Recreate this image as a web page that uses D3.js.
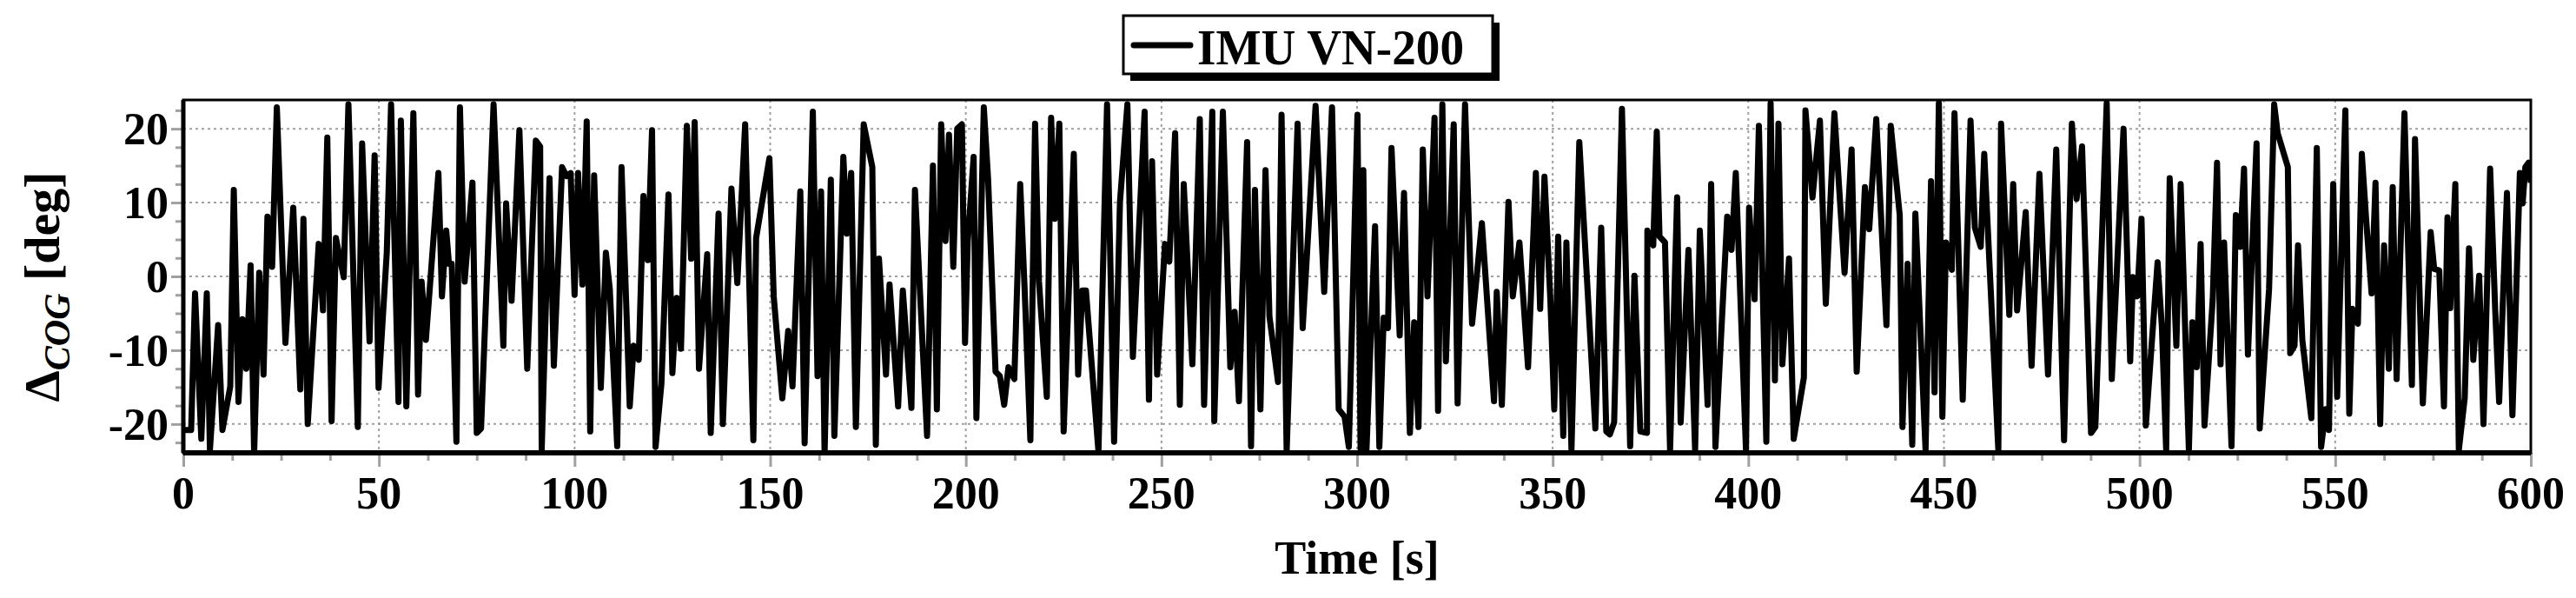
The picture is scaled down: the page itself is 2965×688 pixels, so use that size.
<!DOCTYPE html>
<html>
<head>
<meta charset="utf-8">
<script src="https://cdn.jsdelivr.net/npm/d3@7"></script>
<style>
  body { margin: 0; background: #fff; }
  text { font-family: "Liberation Serif", "Times New Roman", serif; font-weight: bold; }
</style>
</head>
<body>
<div id="chart"></div>
<script>
// turning points: time [s] and Delta COG [deg]
const temps = [0,2,3,4.6,6,6.8,8.9,10,12,12.9,14.1,15.1,16.1,17.2,18.1,19.4,20.5,21.5,22.7,23.9,26.1,28.1,29.9,30.7,31.8,34.6,35.7,36.8,37.9,39,41,42.2,44.6,45.7,47.6,48.9,49.9,52,53.1,55,55.6,57,58.8,60,60.9,62,65.2,66.1,67.2,67.9,68.6,69.8,70.7,71.9,73.9,75,76.1,79.3,81.8,82.5,83.9,85.9,87.9,90.1,91.2,91.6,93.6,94.7,96.8,97.9,99,
  100,100.9,102,103.1,104,105,106.7,108,109,110.9,112,114.1,115.1,116.4,117.6,118.7,119.8,120.7,122.2,124,125,126.1,127.2,128.7,129.8,130.7,131.8,133.9,134.8,136.8,137.9,140.1,141.6,143.6,145.7,146.4,149.8,150.9,153.1,154.6,155.7,157.7,158.8,160.9,162.1,163,163.9,165.5,166.4,168.7,169.6,170.7,171.9,173.9,176.1,177,177.8,179.6,180.5,182.7,183.9,186.1,187,190.1,191.6,192.6,193.7,194.8,195.7,196.8,197.8,199,
  199.8,200.5,202,202.7,204.6,205.7,207.6,208.7,209.8,210.9,212.4,213.9,215,216.5,217.7,218.7,220.7,221.8,222.7,223.9,225,227.6,228.7,229.8,230.7,233.9,236.1,237.9,239.4,241.3,242.7,245.7,246.8,247.6,248.9,250.9,252,253.5,254.7,255.7,257.9,259.8,260.9,263,263.5,265.7,267.6,268.7,269.8,271.9,272.9,273.9,275.3,276.6,277.6,279.8,280.7,282,284.8,286.1,289.4,291.6,293.6,295.3,296.8,297.9,
  300.1,300.9,301.6,302.4,304.6,305.7,306.8,307.9,308.8,310.9,312,313.5,314.6,315.7,316.8,318,319.8,320.7,321.8,322.7,324.7,325.7,327.6,329.4,331.9,335,335.7,337,338.7,339.8,341.5,343.7,345.7,346.8,347.9,349.4,350.4,351.4,352.7,353.5,354.8,356.8,360.9,362.4,363.7,364.6,365.7,367.7,369.8,370.9,372.4,374.1,374.2,375.7,376.6,377.3,378.7,380,381.8,382.7,384.7,386.4,387.6,389.6,390.5,391.6,394.6,395.7,396.8,399.4,
  400.2,401.6,402.7,404.6,405.7,406.8,407.7,408.7,410.4,411.6,414.2,414.6,416.4,418.3,419.8,422,424.6,426.4,427.7,429.8,430.9,432.7,435.3,436.4,438.7,439.4,440.7,441.9,442.7,445.3,446.7,447.6,448.7,449.6,450.5,452,452.7,454.8,456.8,457.9,459.4,460.3,463.9,464.6,466.7,467.7,468.7,470.9,472.4,474.4,476.6,478.7,480.7,482.7,483.9,485.3,487.6,488.7,491.6,492.9,495.9,497.6,498.3,499.4,
  500.5,501.6,504.6,505.7,506.8,507.7,509.4,510.5,511.6,512.6,513.5,514.6,515.6,516.6,518.7,519.8,520.7,521.6,523.5,524.6,525.7,526.7,527.7,529.9,530.7,533.1,534.4,535.3,537.9,538.5,539.6,540.5,541.6,543.9,545.3,546.4,547.6,548.4,549.5,550.5,552.6,553.6,554.4,555.8,556.8,557.9,559.3,560.3,561.5,562.5,563.7,564.7,565.7,567.7,569.6,570.4,572.4,574.4,575.3,576.6,577.8,578.7,579.4,580.7,581.6,583.1,584.2,585.3,586.8,587.9,589.6,590.9,591.9,593.9,595.3,597.2,597.9,598.6,599.4,600];

const deltaCOG = [-20.8,-20.8,-2.3,-22,-2.3,-23.5,-6.6,-20.8,-14.9,11.7,-17,-5.8,-12.5,1.5,-24,0.5,-13.3,8.1,1.3,22.9,-9,9.3,-15.3,7.8,-20,4.4,-4.6,18.8,-19.6,5.2,-0.1,23.3,-20.4,18,-8.8,16.4,-15.1,3.2,23.3,-17,21.1,-17.6,22.1,-16,-0.7,-8.6,14,-2.7,6.2,1.7,1.7,-22.4,22.9,-0.7,12.7,-21.2,-20.6,23.3,-9.4,9.9,-3.3,19.8,-12.5,18.4,17.6,-23.5,13.3,-12.1,14.8,13.6,14,
  -2.5,14,-1.1,21,-21,13.7,-15.1,3.2,-1.7,-23,14.8,-17.6,-9.4,-11.3,10.9,2.2,19.8,-23.1,-14.5,11.1,-13.1,-2.9,-9.8,20.4,2.4,20.9,-12.5,3,-21.2,8.5,-20,11.9,-0.9,20.6,-22.2,5.2,16,-2.7,-16.5,-7.4,-14.9,11.5,-22.6,22.3,-13.5,11.5,-24,13.1,-21.6,16.2,5.8,14,-20.4,20.6,14.8,-22.8,2.4,-13.3,-1.1,-17.6,-1.9,-17.8,11.7,-21.6,15,-18,20.6,4.8,19.2,1.3,20,20.6,
  -9,4.8,16.2,-19.2,22.9,13.1,-12.9,-13.5,-17.4,-12.3,-13.9,12.5,-1.3,-22.2,20.7,-0.7,-16.3,21.5,7.8,20.7,-21,16.6,-13.3,-1.9,-1.9,-23.7,23.3,-22.4,10.1,23.3,-10.9,22.3,-16.7,15.6,-13.3,4.4,2,19.4,-17.4,12.5,-11.9,21.3,-17.4,22.3,-19.6,22.3,-12.3,-4.8,-16.9,18.2,-23,11.7,-18,14.4,-5.4,-14.3,21.9,-23.7,20.7,-7,23.1,-2.1,22.9,-18,-19,-23.1,
  21.9,-23.3,14.4,-23.5,6.8,-23.1,-5.6,-7,17.4,-8,11.3,-21.2,-6.2,-20.4,17.2,-2.7,21.5,-18.2,23.3,-11.5,20.6,-17.2,23.3,-6.4,7.2,-16.9,-2.1,-17.4,10.1,-2.7,4.6,-12.3,14,-4.4,13.5,-3.1,-18,5.4,-21.6,4.6,-23.5,18.2,-20.6,6.6,-21,-21.4,-19.8,22.7,-23,0.1,-21,-21.2,6.2,4.2,19.6,5.4,4.6,-23.5,10.7,-19.8,3.6,-23.5,6.2,-17.4,12.5,-23.1,8.1,3.6,14,-23.5,
  9.3,-3.1,20.4,-22.4,23.5,-14.1,20.7,-11.9,2.4,-22,-13.7,22.5,10.7,21.1,-3.7,22.1,0.5,17.2,-12.9,12.1,6.4,21.3,-6.6,20.4,8.3,-20.4,1.7,-22.8,8.5,-23.5,12.9,-15.7,23.5,-19,4.6,0.9,22.1,-16.7,21.1,6.6,4,16.6,-23.5,20.7,-5.2,12.5,-4.6,8.7,-12.1,13.9,-13.3,17.2,-22.2,20.7,10.5,17.6,-21.2,-20.4,23.5,-13.9,20,-11.5,-0.1,-2.7,
  7.8,-20.2,1.9,-6.8,-23.5,13.3,-9.4,12.5,-6.2,-23.5,-6.2,-12.3,4.4,-20.2,-3.1,15.4,-11.9,4.6,-23,8.3,4,14.6,-10.6,18,-20.6,-1.7,23.3,19.4,14.8,-10.4,-9.4,4.2,-8.6,-19.2,17.4,-23.1,-18,-20.8,12.5,-16.3,22.5,-18.6,-4.4,-6.4,16.6,7.8,-2.3,12.7,-20,4.2,-12.5,12.1,-13.9,22.1,-14.7,18.6,-17.2,6,1,0.8,-17.6,8,-4.3,12.5,-23.5,-16.5,3.8,-11.3,0.1,-20,14.6,-4.6,-17,11.3,-18.8,14,9.9,14.8,15.4,12.7];

const legendLabel = "IMU VN-200";
const ticksX = [0,50,100,150,200,250,300,350,400,450,500,550,600];
const ticksY = [-20,-10,0,10,20];

const W = 2965, H = 688;
const margin = { top: 115, right: 52, bottom: 167, left: 211 },
    width = W - margin.left - margin.right,
    height = H - margin.top - margin.bottom;

const svg = d3.select("#chart").append("svg")
    .attr("width", W).attr("height", H);

const x = d3.scaleLinear().domain([0, 600]).range([0, width]);
const y = d3.scaleLinear().domain([-23.9, 23.9]).range([height, 0]);

const g = svg.append("g").attr("transform", "translate(" + margin.left + "," + margin.top + ")");

// grid
g.selectAll(".gx").data(ticksX).join("line")
    .attr("x1", d => x(d)).attr("x2", d => x(d)).attr("y1", 0).attr("y2", height)
    .attr("stroke", "#a0a0a0").attr("stroke-width", 2).attr("stroke-dasharray", "3,4");
g.selectAll(".gy").data(ticksY).join("line")
    .attr("y1", d => y(d)).attr("y2", d => y(d)).attr("x1", 0).attr("x2", width)
    .attr("stroke", "#a0a0a0").attr("stroke-width", 2).attr("stroke-dasharray", "3,4");

// data line
g.append("clipPath").attr("id", "clip").append("rect")
    .attr("width", width).attr("height", height);
const points = temps.map((t, i) => ({ t: t, v: deltaCOG[i] }));
g.append("path").datum(points)
    .attr("clip-path", "url(#clip)")
    .attr("fill", "none").attr("stroke", "#000").attr("stroke-width", 7)
    .attr("stroke-linejoin", "round")
    .attr("d", d3.line().x(d => x(d.t)).y(d => y(d.v)));

// axes
const axX = g.append("g").attr("transform", "translate(0," + height + ")")
    .call(d3.axisBottom(x).tickValues(d3.range(0, 601, 12.5)).tickSize(9).tickFormat(""));
axX.selectAll(".tick line").attr("stroke", "#a0a0a0").attr("stroke-width", 3)
    .attr("y2", d => ticksX.includes(d) ? 16 : 9);
axX.select(".domain").remove();
g.selectAll(".xl").data(ticksX).join("text")
    .attr("x", d => x(d)).attr("y", height + 64)
    .attr("text-anchor", "middle").attr("font-size", 52).text(d => d);

const axY = g.append("g")
    .call(d3.axisLeft(y).tickValues(d3.range(-22.5, 23, 2.5)).tickSize(9).tickFormat(""));
axY.selectAll(".tick line").attr("stroke", "#a0a0a0").attr("stroke-width", 3)
    .attr("x2", d => ticksY.includes(d) ? -14 : -9);
axY.select(".domain").remove();
g.selectAll(".yl").data(ticksY).join("text")
    .attr("x", -17).attr("y", d => y(d) + 18)
    .attr("text-anchor", "end").attr("font-size", 52).text(d => d);

// frame
g.append("rect").attr("width", width).attr("height", height)
    .attr("fill", "none").attr("stroke", "#000").attr("stroke-width", 3);
g.append("line").attr("x1", 0).attr("x2", 0).attr("y1", 0).attr("y2", height)
    .attr("stroke", "#000").attr("stroke-width", 5);
g.append("line").attr("x1", 0).attr("x2", width).attr("y1", height).attr("y2", height)
    .attr("stroke", "#000").attr("stroke-width", 6);

// axis titles
svg.append("text").attr("x", margin.left + width / 2).attr("y", 660)
    .attr("text-anchor", "middle").attr("font-size", 54).text("Time [s]");
const yt = svg.append("text")
    .attr("transform", "translate(68,330) rotate(-90)")
    .attr("text-anchor", "middle").attr("font-size", 58);
yt.append("tspan").text("\u0394");
yt.append("tspan").attr("font-style", "italic").attr("font-size", 42).attr("dy", 12).text("COG");
yt.append("tspan").attr("dy", -12).text(" [deg]");

// legend
const lg = svg.append("g");
lg.append("rect").attr("x", 1301).attr("y", 26).attr("width", 425).attr("height", 67).attr("fill", "#000");
lg.append("rect").attr("x", 1293).attr("y", 18).attr("width", 425).attr("height", 67)
    .attr("fill", "#fff").attr("stroke", "#000").attr("stroke-width", 3);
lg.append("line").attr("x1", 1305).attr("x2", 1370).attr("y1", 52).attr("y2", 52)
    .attr("stroke", "#000").attr("stroke-width", 7).attr("stroke-linecap", "round");
lg.append("text").attr("x", 1378).attr("y", 74).attr("font-size", 58)
    .attr("textLength", 307).attr("lengthAdjust", "spacingAndGlyphs").text(legendLabel);
</script>
</body>
</html>
